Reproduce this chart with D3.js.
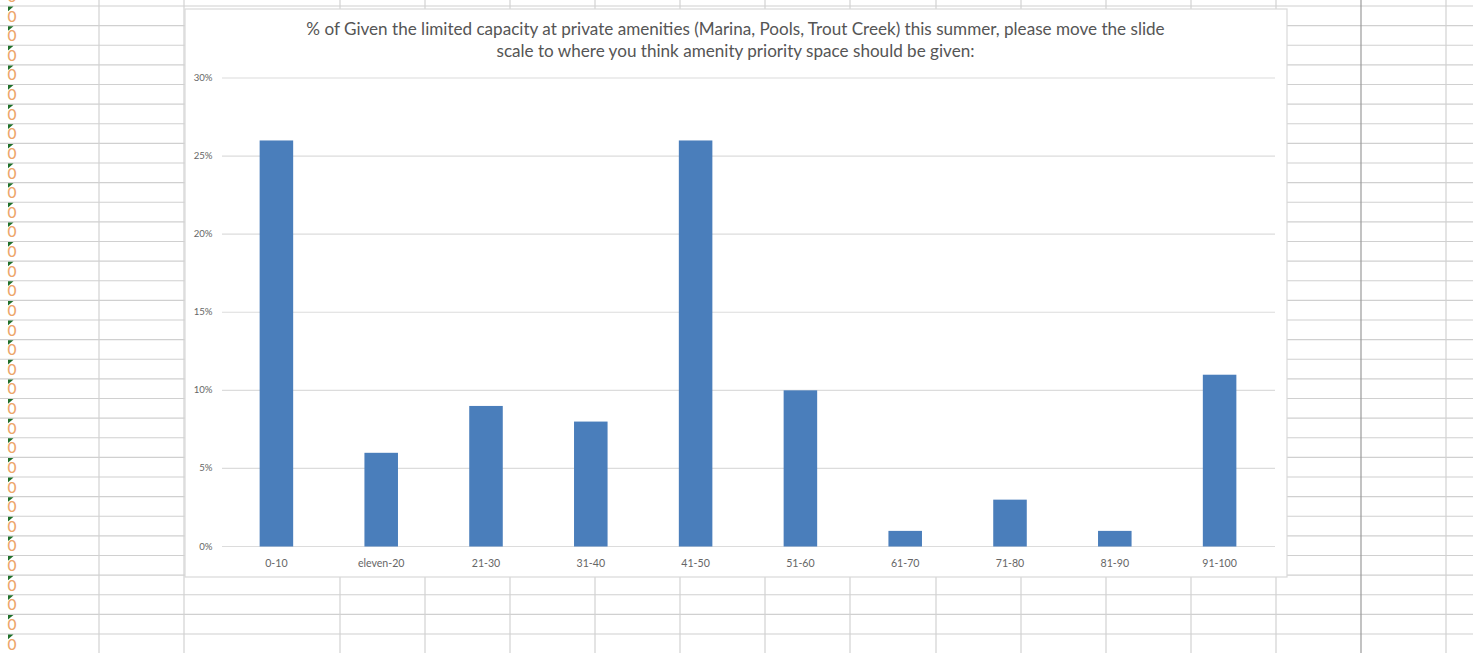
<!DOCTYPE html>
<html>
<head>
<meta charset="utf-8">
<script src="https://cdn.jsdelivr.net/npm/d3@7"></script>
<style>
html,body{margin:0;padding:0;background:#fff;overflow:hidden}
svg{display:block}
text{font-family:Lato,"Open Sans",sans-serif}
</style>
</head>
<body>
<svg id="sheet" width="1473" height="653"></svg>
<script>
// Survey results
const categories = ["0-10","eleven-20","21-30","31-40","41-50","51-60","61-70","71-80","81-90","91-100"];
const shares = [26,6,9,8,26,10,1,3,1,11];
const percentTicks = [0,5,10,15,20,25,30];
const titleLines = [
  "% of Given the limited capacity at private amenities (Marina, Pools, Trout Creek) this summer, please move the slide",
  "scale to where you think amenity priority space should be given:"
];
// Worksheet cell layout behind the chart
const columnEdges = [99,184,340,425,510,595,680,765,850,936,1021,1106,1191,1276,1361,1446];
const rowIndexes = d3.range(-1,33);
const cellText = "0";

const svg = d3.select("#sheet");
const W = 1473, H = 653;
const rowY = d3.scaleLinear().domain([0,32]).range([6,634]);

// Gridlines of the worksheet
const grid = svg.append("g");
grid.selectAll("line.row").data(rowIndexes.filter(d=>d>=0)).join("line")
  .attr("class","row")
  .attr("x1",0).attr("x2",W)
  .attr("y1",d=>rowY(d)).attr("y2",d=>rowY(d))
  .attr("stroke","#d0d0d0").attr("stroke-width",1.2);
grid.selectAll("line.col").data(columnEdges).join("line")
  .attr("class","col")
  .attr("x1",d=>d).attr("x2",d=>d)
  .attr("y1",0).attr("y2",H)
  .attr("stroke",d=>d===1361?"#9a9a9a":"#d2d2d2").attr("stroke-width",1.2);

// Text-formatted zero in the first column, with the green error flag
const cells = svg.append("g").selectAll("g").data(rowIndexes).join("g")
  .attr("transform",d=>`translate(8,${rowY(d)})`);
cells.append("text").text(cellText)
  .attr("x",4).attr("y",15.5)
  .attr("text-anchor","middle")
  .attr("font-size",15.5)
  .attr("font-weight",500)
  .attr("fill","#eda66b");
cells.append("path").attr("d","M0,0.6 h5.5 l-5.5,4.6 z").attr("fill","#1f6f2a");

// Chart panel
const panel = {x:185,y:9,w:1102,h:568};
svg.append("rect")
  .attr("x",panel.x).attr("y",panel.y).attr("width",panel.w).attr("height",panel.h)
  .attr("fill","#fff").attr("stroke","#d9d9d9").attr("stroke-width",1.2);

const x = d3.scaleBand().domain(categories).range([224,1272]).paddingInner(0.68).paddingOuter(0.34);
const y = d3.scaleLinear().domain([0,30]).range([546.5,78]);

// Horizontal value gridlines
svg.append("g").selectAll("line").data(percentTicks).join("line")
  .attr("x1",222).attr("x2",1275)
  .attr("y1",d=>y(d)).attr("y2",d=>y(d))
  .attr("stroke","#dcdcdc").attr("stroke-width",1.2);

// Value labels
svg.append("g").selectAll("text").data(percentTicks).join("text")
  .attr("x",212.5).attr("y",d=>y(d)+3)
  .attr("text-anchor","end")
  .attr("font-size",9.6)
  .attr("fill","#666")
  .text(d=>d+"%");

// Bars
svg.append("g").selectAll("rect").data(categories).join("rect")
  .attr("x",d=>x(d))
  .attr("width",x.bandwidth())
  .attr("y",(d,i)=>y(shares[i]))
  .attr("height",(d,i)=>y(0)-y(shares[i]))
  .attr("fill","#4a7ebb");

// Category labels
svg.append("g").selectAll("text").data(categories).join("text")
  .attr("x",d=>x(d)+x.bandwidth()/2)
  .attr("y",566.5)
  .attr("text-anchor","middle")
  .attr("font-size",10.6)
  .attr("fill","#666")
  .text(d=>d);

// Two-line title
svg.append("g").selectAll("text").data(titleLines).join("text")
  .attr("x",735.5)
  .attr("y",(d,i)=>34.5+i*22)
  .attr("text-anchor","middle")
  .attr("font-size",17.1)
  .attr("fill","#555")
  .text(d=>d);
</script>
</body>
</html>
